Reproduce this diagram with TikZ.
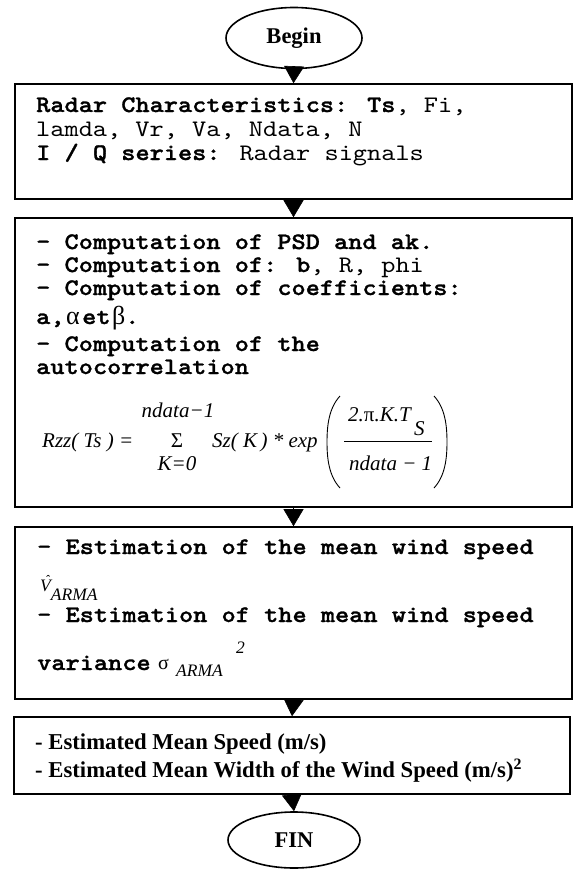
\documentclass[tikz,border=0pt]{standalone}
\usepackage{fontspec}
\setmainfont{Liberation Serif}
\newfontfamily\cour{lmmono10-regular.otf}[BoldFont=lmmonolt10-bold.otf, FakeStretch=1.14, BoldFeatures={FakeBold=1.2}]
\usetikzlibrary{arrows.meta,shapes.geometric}
\tikzset{
  box/.style={draw, line width=1.6pt, minimum width=557pt, inner sep=0pt},
  term/.style={draw, ellipse, line width=1.6pt, inner sep=0pt, font=\fontsize{22.5}{22.5}\selectfont\bfseries},
  flow/.style={-{Triangle[width=20pt,length=17pt]}, line width=0.6pt},
  monor/.style={inner sep=0pt, anchor=base west, font=\fontsize{23.7}{24}\cour},
  monob/.style={inner sep=0pt, anchor=base west, font=\fontsize{23.7}{24}\cour\bfseries},
  fmath/.style={inner sep=0pt, font=\fontsize{21}{21}\selectfont\itshape},
  smallit/.style={inner sep=0pt, anchor=base west, font=\fontsize{17.5}{17.5}\selectfont\itshape},
  greek/.style={inner sep=0pt, anchor=base west, font=\fontsize{26}{26}\selectfont},
  tbold/.style={inner sep=0pt, anchor=base west, font=\fontsize{22.7}{22.7}\selectfont\bfseries},
  paren/.style={line width=0.9pt}
}
\begin{document}
\begin{tikzpicture}[x=1pt,y=-1pt]
\useasboundingbox (0,0) rectangle (574,870);
% terminals
\node[term, minimum width=136pt, minimum height=61pt] (begin) at (294,38) {Begin};
\node[term, minimum width=132pt, minimum height=56pt] (fin) at (294,840) {FIN};
% boxes
\node[box, minimum height=115pt] (b1) at (293.5,141.5) {};
\node[box, minimum height=289pt] (b2) at (293.5,362.5) {};
\node[box, minimum height=172pt] (b3) at (293.5,613) {};
\node[box, minimum width=556pt, minimum height=77pt] (b4) at (292,755.5) {};
% connectors
\draw[flow] (begin.south) -- (b1.north);
\draw[flow] (b1.south) -- (b2.north);
\draw[flow] (b2.south) -- (b3.north);
\draw[flow] (b3.south) -- (b4.north);
\draw[flow] (b4.south) -- (fin.north);
% box 1 text
\node[monor] (t1a) at (36,112) {\textbf{Radar Characteristics: Ts}, Fi,};
\node[monor] (t1b) at (36,136) {lamda, Vr, Va, Ndata, N};
\node[monor] (t1c) at (36,160) {\textbf{I / Q series:} Radar signals};
% box 2 text
\node[monob] (t2a) at (36,249) {- Computation of PSD and ak.};
\node[monor] (t2b) at (36,272) {\textbf{- Computation of: b}, R, phi};
\node[monob] (t2c) at (36,295) {- Computation of coefficients:};
\node[monob] (t2d1) at (36,324) {a,};
\node[greek] (t2al) at (66,324) {α};
\node[monob] (t2d2) at (82,324) {et};
\node[greek] (t2be) at (112,324) {β};
\node[monob] (t2d3) at (125,324) {.};
\node[monob] (t2e) at (36,351) {- Computation of the};
\node[monob] (t2f) at (36,374) {autocorrelation};
% formula
\node[fmath, anchor=base west] (rzz) at (42,447) {Rzz( Ts ) =};
\node[fmath, anchor=base] (sumtop) at (178,417) {ndata−1};
\node[inner sep=0pt, anchor=base, font=\fontsize{21}{21}\selectfont] (sumsym) at (177,447) {Σ};
\node[fmath, anchor=base] (sumbot) at (177,470) {K=0};
\node[fmath, anchor=base west] (szk) at (212,447) {Sz( K\,) * exp};
\draw[paren] (340,396) .. controls (329,408) and (327,425) .. (327,442) .. controls (327,459) and (329,476) .. (340,488);
\draw[paren] (434,396) .. controls (445,408) and (447,425) .. (447,442) .. controls (447,459) and (445,476) .. (434,488);
\node[fmath, anchor=base west] (num) at (348,421) {2.\textup{π}.K.T};
\node[fmath, anchor=base west] (nums) at (414,435) {S};
\draw[line width=0.9pt] (344,441) -- (432,441);
\node[fmath, anchor=base west] (den) at (349,470) {ndata − 1};
% box 3 text
\node[monob] (t3a) at (37,554) {- Estimation of the mean wind speed};
\node[smallit] (vhat) at (40,591) {\rlap{\kern5pt\raisebox{6.5pt}{\fontsize{13}{13}\selectfont ˆ}}V\raisebox{-9pt}{ARMA}};
\node[monob] (t3b) at (37,622) {- Estimation of the mean wind speed};
\node[monob] (t3c) at (37,670) {variance};
\node[inner sep=0pt, anchor=base west, font=\fontsize{20}{20}\selectfont] (sig) at (158,669) {σ};
\node[smallit] (arma2) at (176,676) {ARMA};
\node[smallit] (sq) at (236,653) {2};
% box 4 text
\node[tbold] (t4a) at (35,749) {- Estimated Mean Speed (m/s)};
\node[tbold] (t4b) at (35,777) {- Estimated Mean Width of the Wind Speed (m/s)\textsuperscript{2}};
\end{tikzpicture}
\end{document}
